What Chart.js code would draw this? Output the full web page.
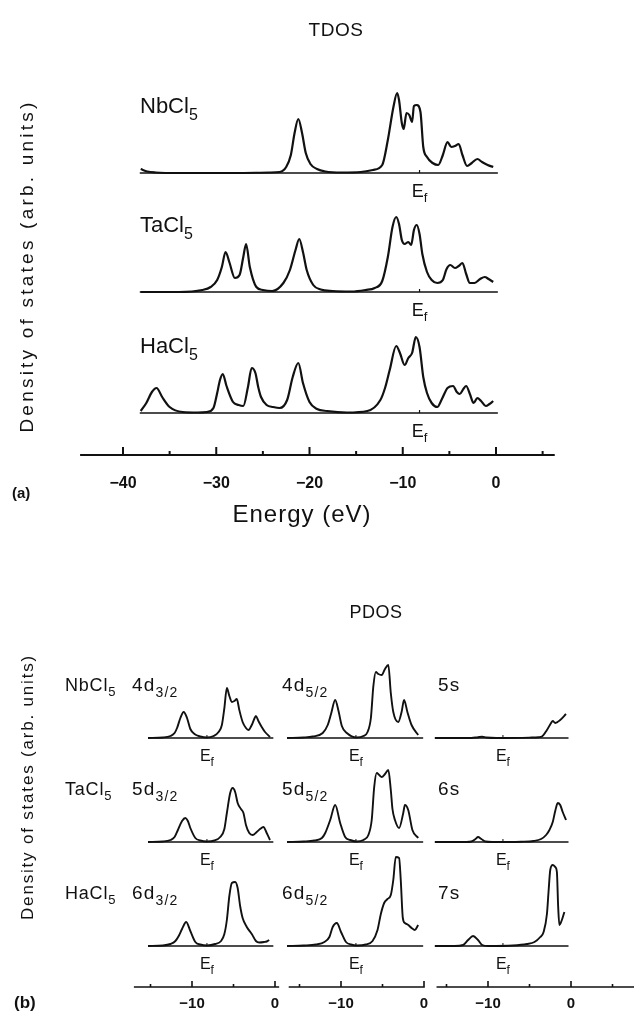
<!DOCTYPE html>
<html>
<head>
<meta charset="utf-8">
<script src="https://cdn.jsdelivr.net/npm/chart.js@4.4.1/dist/chart.umd.min.js"></script>
<style>
  html, body { margin: 0; background: #fff; }
  #wrap { position: relative; width: 634px; height: 1012px; }
</style>
</head>
<body>
<div id="wrap"><canvas id="dos" width="634" height="1012"></canvas></div>
<script>
// ==========================================================================
// TDOS / PDOS of NbCl5, TaCl5, HaCl5
// ==========================================================================

const E_F = -8.2; // Fermi level marker (eV)

// ---- (a) TDOS: energies (eV) and densities (arb. units) ----
const tdosNbE = [-38.1, -37.4, -36.5, -34, -28, -24.3, -23.2, -22.5, -22.0, -21.6, -21.2, -20.8, -20.4, -19.9, -19.2, -18.3, -16.5, -14.5, -13.2, -12.2, -11.6, -11.0, -10.6, -10.4, -10.1, -9.9, -9.6, -9.3, -9.0, -8.8, -8.5, -8.1, -7.8, -7.4, -6.8, -6.2, -5.7, -5.2, -4.8, -4.4, -4.0, -3.6, -3.1, -2.6, -2.0, -1.5, -0.9, -0.3];
const tdosNbD = [4, 1.5, 0.5, 0, 0, 0.5, 1, 6, 18, 40, 54, 40, 20, 9, 4, 1.5, 0.5, 1, 3, 8, 33, 66, 80, 73, 50, 44, 60, 58, 51, 67, 68, 61, 26, 16, 10, 8, 18, 31, 26, 27, 29, 18, 7, 10, 14, 11, 8, 6];

const tdosTaE = [-38.1, -34, -31.5, -30.6, -29.9, -29.4, -29.0, -28.6, -28.0, -27.5, -27.1, -26.8, -26.4, -25.7, -25.0, -24.0, -22.8, -22.1, -21.5, -21.1, -20.7, -20.3, -19.6, -18.8, -17.5, -15.5, -14.0, -13.0, -12.2, -11.6, -11.1, -10.7, -10.4, -10.1, -9.8, -9.4, -9.1, -8.8, -8.5, -8.2, -7.9, -7.4, -6.9, -6.3, -5.7, -5.3, -4.9, -4.4, -4.0, -3.6, -3.2, -2.8, -2.3, -1.7, -1.2, -0.8, -0.3];
const tdosTaD = [0, 0, 2, 5, 12, 25, 40, 30, 14, 17, 35, 48, 25, 5, 2, 1, 9, 22, 42, 53, 40, 22, 7, 2.5, 1, 0.5, 2, 4, 11, 35, 65, 75, 68, 52, 48, 50, 47, 62, 67, 58, 38, 20, 12, 9, 12, 23, 27, 24, 26, 29, 18, 9, 9, 13, 15, 13, 10];

const tdosHaE = [-38.1, -37.5, -36.9, -36.4, -35.8, -35.0, -33.6, -32, -31.0, -30.3, -29.9, -29.6, -29.3, -28.9, -28.2, -27.6, -27.1, -26.6, -26.2, -25.8, -25.5, -25.2, -24.6, -23.9, -23.2, -22.4, -21.8, -21.2, -20.7, -20.0, -19.2, -18.1, -16, -13.8, -12.4, -11.9, -11.4, -10.7, -10.3, -9.8, -9.4, -9.0, -8.6, -8.2, -7.8, -7.4, -6.9, -6.3, -5.8, -5.2, -4.6, -4.2, -3.9, -3.5, -3.2, -2.8, -2.4, -2.0, -1.6, -1.1, -0.7, -0.3];
const tdosHaD = [2, 10, 21, 25, 16, 6, 1, 0.5, 1, 5, 20, 33, 39, 27, 11, 8, 7, 26, 45, 40, 26, 16, 8, 6, 5, 13, 36, 50, 30, 11, 4, 2, 0.5, 2, 13, 25, 43, 67, 60, 48, 55, 60, 76, 66, 36, 20, 10, 6, 14, 25, 27, 21, 19, 24, 27, 19, 10, 15, 12, 7, 9, 12];

const tdosBase = [-38.2, 0.2];
const tdosAxis = [-44.6, 6.3];
const tdosMajor = [-40, -30, -20, -10, 0];
const tdosMinor = [-35, -25, -15, -5, 5];

// ---- (b) PDOS ----
const nbD32E = [-15.3, -13.5, -12.6, -12.1, -11.8, -11.4, -11.0, -10.6, -10.2, -9.7, -9.0, -8.2, -7.4, -6.8, -6.4, -6.1, -5.8, -5.5, -5.2, -4.9, -4.6, -4.3, -3.9, -3.5, -3.2, -2.8, -2.5, -2.3, -2.0, -1.6, -1.2, -0.6];
const nbD32D = [0, 0.5, 2, 5, 10, 20, 26, 20, 9, 4, 1.5, 0.5, 2, 6, 13, 30, 50, 42, 36, 37, 39, 28, 16, 10, 8, 13, 19, 22, 17, 11, 6, 1];
const nbD52E = [-16.5, -14.5, -13.4, -12.2, -11.6, -11.2, -10.7, -10.3, -9.9, -9.3, -8.1, -7.3, -6.8, -6.4, -6.1, -5.8, -5.5, -5.1, -4.7, -4.3, -4.0, -3.7, -3.1, -2.7, -2.4, -2.0, -1.5, -0.7];
const nbD52D = [0, 0.5, 1.5, 5, 13, 24, 38, 27, 12, 5, 0.5, 2, 6, 20, 52, 66, 64, 63, 69, 73, 45, 26, 16, 26, 38, 26, 13, 3];
const nbSE = [-16.4, -12.0, -11.2, -10.7, -10.2, -9.0, -5.0, -3.9, -3.5, -2.9, -2.4, -2.2, -1.9, -1.3, -0.6];
const nbSD = [0, 0, 0.8, 1.2, 0.5, 0, 0.4, 0.8, 1.5, 8, 15, 17, 15, 18, 24];

const taD32E = [-15.3, -13.5, -12.6, -12.1, -11.7, -11.2, -10.8, -10.5, -10.2, -9.6, -9.0, -8.2, -7.3, -6.6, -6.1, -5.8, -5.4, -5.1, -4.8, -4.5, -4.1, -3.8, -3.5, -3.1, -2.7, -2.2, -1.8, -1.4, -1.0, -0.6];
const taD32D = [0, 0.5, 2, 5, 12, 21, 24, 21, 14, 4, 1.5, 0.5, 1.5, 5, 13, 29, 49, 54, 50, 39, 33, 29, 17, 9, 7, 10, 13, 15, 9, 2];
const taD52E = [-16.5, -14.5, -13.2, -12.3, -11.9, -11.3, -10.7, -10.1, -9.5, -8.9, -8.1, -7.3, -6.7, -6.3, -6.0, -5.7, -5.4, -5.1, -4.7, -4.3, -4.0, -3.8, -3.5, -3.0, -2.5, -2.3, -1.9, -1.4, -0.7];
const taD52D = [0, 0.5, 1.5, 4, 9, 22, 37, 19, 5, 2, 0.5, 2, 7, 22, 55, 69, 67, 65, 68, 72, 52, 33, 22, 14, 29, 37, 32, 12, 4];
const taSE = [-16.4, -12.6, -12.0, -11.5, -11.2, -10.8, -10.3, -9.5, -6, -4.5, -3.6, -3.0, -2.6, -2.2, -1.9, -1.6, -1.3, -1.0, -0.6];
const taSD = [0, 0, 0.5, 3, 5, 3, 0.5, 0, 0.3, 1, 3, 7, 12, 20, 31, 39, 37, 30, 22];

const haD32E = [-15.3, -13.5, -12.6, -12.0, -11.6, -11.2, -10.7, -10.2, -9.6, -9.0, -8.2, -7.2, -6.5, -6.1, -5.8, -5.5, -5.2, -4.8, -4.5, -4.2, -3.9, -3.4, -2.8, -2.3, -1.9, -1.3, -1.0, -0.7];
const haD32D = [0, 0.5, 2, 5, 10, 17, 24, 15, 4, 1.5, 0.5, 2, 5, 12, 26, 50, 63, 64, 58, 40, 28, 19, 12, 5, 3.5, 4, 4.5, 6];
const haD52E = [-16.5, -14.5, -13.0, -12.0, -11.4, -11.0, -10.5, -10.0, -9.4, -8.8, -8.1, -7.0, -6.2, -5.6, -5.2, -4.8, -4.4, -4.0, -3.7, -3.4, -3.0, -2.8, -2.55, -2.3, -1.9, -1.5, -1.1, -0.7];
const haD52D = [0, 0.5, 1.5, 4, 9, 19, 23, 14, 4, 1.5, 0.5, 1.5, 5, 16, 32, 43, 47, 51, 66, 89, 88, 66, 28, 23, 21, 18, 16, 21];
const haSE = [-16.4, -14, -13.0, -12.4, -11.8, -11.2, -10.7, -10.0, -7.0, -5.3, -4.4, -3.7, -3.3, -2.9, -2.7, -2.5, -2.2, -1.9, -1.7, -1.55, -1.4, -1.1, -0.8];
const haSD = [0, 0, 1, 6, 10, 6, 1, 0, 0.5, 2, 4, 9, 14, 32, 55, 76, 81, 79, 74, 40, 21, 26, 34];

const pdosBase = [[-15.3, -0.2], [-16.5, -0.1], [-16.4, -0.3]];
const pdosAxis = [[-17, 0.5], [-16.3, 0.1], [-16.2, 7.6]];
const pdosMajor = [-10, 0];
const pdosMinor = [[-15, -5], [-15, -5], [-15, -5, 5]];

// ---- labels ----
const compounds = ['NbCl', 'TaCl', 'HaCl'];
const orbitals = [
  [['4d', '3/2'], ['4d', '5/2'], ['5s', '']],
  [['5d', '3/2'], ['5d', '5/2'], ['6s', '']],
  [['6d', '3/2'], ['6d', '5/2'], ['7s', '']]
];
const pdosCurves = [
  [[nbD32E, nbD32D], [nbD52E, nbD52D], [nbSE, nbSD]],
  [[taD32E, taD32D], [taD52E, taD52D], [taSE, taSD]],
  [[haD32E, haD32D], [haD52E, haD52D], [haSE, haSD]]
];

// ---- page layout (pixels) ----
const W = 634, H = 1012;
const FONT = '"Liberation Sans", Arial, sans-serif';
const TOP = { zero: 496, ppe: 9.325, base: [173, 292, 413], axisY: 455 };
const BOT = { zero: [275, 424, 571], ppe: 8.3, base: [738, 842, 946], axisY: 987, labelX: [132, 282, 438] };

// every scale spans the whole canvas; the zero / baseline pixel places each sub plot
function xScale(zeroPx, ppe) {
  return { type: 'linear', display: false, min: -zeroPx / ppe, max: (W - zeroPx) / ppe };
}
function yScale(basePx) {
  return { type: 'linear', display: false, min: basePx - H, max: basePx };
}

const scales = { xTop: xScale(TOP.zero, TOP.ppe) };
TOP.base.forEach((b, i) => { scales['yT' + i] = yScale(b); });
BOT.zero.forEach((z, j) => { scales['xC' + j] = xScale(z, BOT.ppe); });
BOT.base.forEach((b, i) => { scales['yR' + i] = yScale(b); });

function curve(E, D, xId, yId, width) {
  return {
    data: E.map((e, i) => ({ x: e, y: D[i] })),
    xAxisID: xId, yAxisID: yId,
    borderColor: '#111', borderWidth: width,
    pointRadius: 0, fill: false,
    cubicInterpolationMode: 'monotone'
  };
}
function baseline(range, xId, yId) {
  return {
    data: [{ x: range[0], y: 0 }, { x: range[1], y: 0 }],
    xAxisID: xId, yAxisID: yId,
    borderColor: '#111', borderWidth: 1.4, pointRadius: 0, fill: false
  };
}

const datasets = [];
[[tdosNbE, tdosNbD], [tdosTaE, tdosTaD], [tdosHaE, tdosHaD]].forEach(([E, D], i) => {
  datasets.push(baseline(tdosBase, 'xTop', 'yT' + i));
  datasets.push(curve(E, D, 'xTop', 'yT' + i, 2.2));
});
pdosCurves.forEach((row, i) => {
  row.forEach(([E, D], j) => {
    datasets.push(baseline(pdosBase[j], 'xC' + j, 'yR' + i));
    datasets.push(curve(E, D, 'xC' + j, 'yR' + i, 1.9));
  });
});

// text with optional subscripts: parts = [[text, isSub], ...]
function rich(ctx, parts, x, y, size, align, weight, spacing) {
  const fontFor = sub => `${weight || ''} ${sub ? Math.round(size * 0.72) : size}px ${FONT}`;
  ctx.letterSpacing = (spacing || 0) + 'px';
  let w = 0;
  parts.forEach(([t, sub]) => { ctx.font = fontFor(sub); w += ctx.measureText(t).width; });
  let cx = align === 'center' ? x - w / 2 : x;
  ctx.textAlign = 'left';
  ctx.textBaseline = 'alphabetic';
  parts.forEach(([t, sub]) => {
    ctx.font = fontFor(sub);
    ctx.fillText(t, cx, sub ? y + size * 0.3 : y);
    cx += ctx.measureText(t).width;
  });
  ctx.letterSpacing = '0px';
}

function vertical(ctx, text, cx, cy, size, length) {
  ctx.save();
  ctx.translate(cx, cy);
  ctx.rotate(-Math.PI / 2);
  ctx.font = `${size}px ${FONT}`;
  const natural = ctx.measureText(text).width;
  ctx.letterSpacing = Math.max(0, (length - natural) / text.length).toFixed(2) + 'px';
  ctx.textAlign = 'center';
  ctx.textBaseline = 'middle';
  ctx.fillText(text, 0, 0);
  ctx.restore();
}

function axis(ctx, scale, y, range, major, minor, majLen, minLen, width) {
  ctx.lineWidth = width;
  ctx.beginPath();
  ctx.moveTo(scale.getPixelForValue(range[0]), y);
  ctx.lineTo(scale.getPixelForValue(range[1]), y);
  major.forEach(v => { const p = scale.getPixelForValue(v); ctx.moveTo(p, y); ctx.lineTo(p, y - majLen); });
  minor.forEach(v => { const p = scale.getPixelForValue(v); ctx.moveTo(p, y); ctx.lineTo(p, y - minLen); });
  ctx.stroke();
}

const tickText = v => (v === 0 ? '0' : '\u2212' + Math.abs(v));

const figureText = {
  id: 'figureText',
  afterDraw(chart) {
    const ctx = chart.ctx;
    const s = chart.scales;
    ctx.save();
    ctx.fillStyle = '#111';
    ctx.strokeStyle = '#111';

    // ---------- panel (a) ----------
    rich(ctx, [['TDOS']], 336, 36, 19, 'center', '', 0.5);
    const efTop = s.xTop.getPixelForValue(E_F);
    TOP.base.forEach((b, i) => {
      rich(ctx, [[compounds[i]], ['5', true]], 140, b - 60, 22, 'left');
      ctx.lineWidth = 1.2;
      ctx.beginPath(); ctx.moveTo(efTop, b); ctx.lineTo(efTop, b - 3); ctx.stroke();
      rich(ctx, [['E'], ['f', true]], efTop, b + 24, 18, 'center');
    });
    axis(ctx, s.xTop, TOP.axisY, tdosAxis, tdosMajor, tdosMinor, 8, 4, 2);
    tdosMajor.forEach(v => rich(ctx, [[tickText(v)]], s.xTop.getPixelForValue(v), 488, 16, 'center', 'bold'));
    rich(ctx, [['Energy (eV)']], 302, 522, 24, 'center', '', 1);
    rich(ctx, [['(a)']], 12, 498, 15, 'left', 'bold');
    vertical(ctx, 'Density of states (arb. units)', 28, 266, 19, 333);

    // ---------- panel (b) ----------
    rich(ctx, [['PDOS']], 376, 618, 18, 'center', '', 0.5);
    BOT.base.forEach((b, i) => {
      rich(ctx, [[compounds[i]], ['5', true]], 65, b - 47, 18, 'left', '', 0.8);
      BOT.zero.forEach((z, j) => {
        const xs = s['xC' + j];
        const ef = xs.getPixelForValue(E_F);
        const [main, sub] = orbitals[i][j];
        rich(ctx, sub ? [[main], [sub, true]] : [[main]], BOT.labelX[j], b - 47, 19, 'left', '', 1.2);
        ctx.lineWidth = 1;
        ctx.beginPath(); ctx.moveTo(ef, b); ctx.lineTo(ef, b - 3); ctx.stroke();
        rich(ctx, [['E'], ['f', true]], ef, b + 23, 16, 'center');
      });
    });
    BOT.zero.forEach((z, j) => {
      const xs = s['xC' + j];
      axis(ctx, xs, BOT.axisY, pdosAxis[j], pdosMajor, pdosMinor[j], 6, 3, 1.6);
      pdosMajor.forEach(v => rich(ctx, [[tickText(v)]], xs.getPixelForValue(v), 1008, 15, 'center', 'bold'));
    });
    rich(ctx, [['(b)']], 14, 1008, 17, 'left', 'bold');
    vertical(ctx, 'Density of states (arb. units)', 28, 787, 17, 266);

    ctx.restore();
  }
};

new Chart(document.getElementById('dos'), {
  type: 'line',
  data: { datasets },
  options: {
    responsive: false,
    animation: false,
    events: [],
    layout: { padding: 0 },
    scales,
    plugins: { legend: { display: false }, tooltip: { enabled: false } }
  },
  plugins: [figureText]
});
</script>
</body>
</html>
